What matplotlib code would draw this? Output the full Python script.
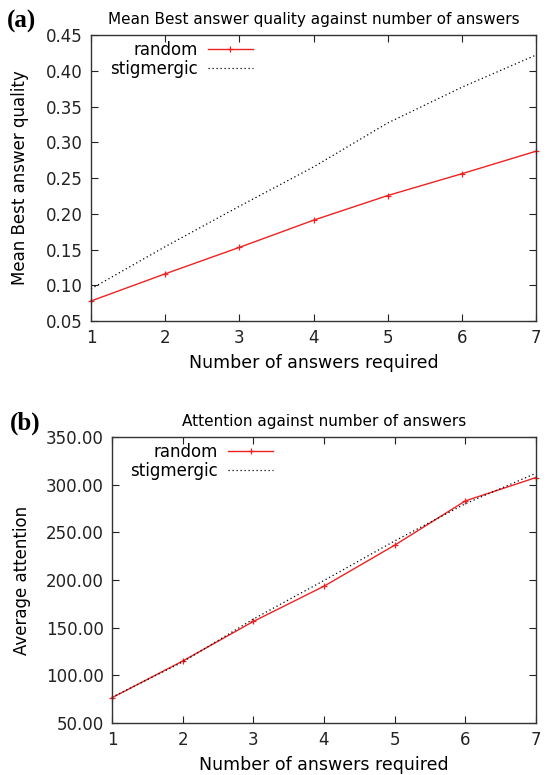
import matplotlib
matplotlib.use("Agg")
import matplotlib.pyplot as plt
from matplotlib.ticker import FormatStrFormatter

# Number of answers required
answers = [1, 2, 3, 4, 5, 6, 7]

# Mean best answer quality
quality_random = [0.078, 0.116, 0.153, 0.191, 0.2255, 0.256, 0.2875]
quality_stigmergic = [0.095, 0.154, 0.2105, 0.2655, 0.327, 0.377, 0.422]

# Average attention
attention_random = [76.5, 115.0, 156.5, 193.5, 236.5, 283.0, 307.5]
attention_stigmergic = [77.0, 114.0, 159.0, 199.5, 241.0, 280.0, 312.0]

quality_ticks = [0.05, 0.10, 0.15, 0.20, 0.25, 0.30, 0.35, 0.40, 0.45]
attention_ticks = [50, 100, 150, 200, 250, 300, 350]

plt.rcParams["font.family"] = ["DejaVu Sans"]

fig = plt.figure(figsize=(5.49, 7.75), dpi=100)

RED = "#ee2222"


def style_axes(ax):
    ax.tick_params(direction="in", top=True, right=True, length=5, width=0.8,
                   labelsize=12, pad=6, colors="#222222")
    for s in ax.spines.values():
        s.set_linewidth(1.0)
        s.set_color("#333333")


def draw(ax, y_random, y_stig, yticks, title, ylabel, tag, ylab_x, tag_x):
    ax.plot(answers, y_random, color=RED, lw=1.0, marker="+", ms=5, mew=0.9,
            label="random", clip_on=False)
    ax.plot(answers, y_stig, color="black", lw=0.9, ls=(0, (1, 2.2)),
            label="stigmergic", clip_on=False)
    ax.set_xlim(1, 7)
    ax.set_ylim(yticks[0], yticks[-1])
    ax.set_xticks(answers)
    ax.set_yticks(yticks)
    ax.yaxis.set_major_formatter(FormatStrFormatter("%.2f"))
    ax.set_title(title, fontsize=11, pad=8)
    ax.set_xlabel("Number of answers required", fontsize=12.5)
    ax.set_ylabel(ylabel, fontsize=12)
    ax.yaxis.set_label_coords(ylab_x, 0.5)
    ax.xaxis.set_label_coords(0.5, -0.115)
    style_axes(ax)
    leg = ax.legend(loc="upper left", bbox_to_anchor=(0.02, 1.015), frameon=False,
                    markerfirst=False, fontsize=12, handlelength=2.7,
                    handletextpad=0.6, labelspacing=0.05, borderaxespad=0.2)
    for t in leg.get_texts():
        t.set_ha("right")
    ax.text(tag_x, 1.047, tag, transform=ax.transAxes,
            fontsize=18, fontweight="bold", family="Liberation Serif",
            ha="left", va="center")


ax1 = fig.add_axes([0.1658, 0.5858, 0.8106, 0.369])
draw(ax1, quality_random, quality_stigmergic, quality_ticks,
     "Mean Best answer quality against number of answers",
     "Mean Best answer quality", "(a)", -0.139, -0.189)

ax2 = fig.add_axes([0.204, 0.0671, 0.7723, 0.369])
draw(ax2, attention_random, attention_stigmergic, attention_ticks,
     "Attention against number of answers",
     "Average attention", "(b)", -0.191, -0.24)

fig.savefig("out.png", dpi=100)
